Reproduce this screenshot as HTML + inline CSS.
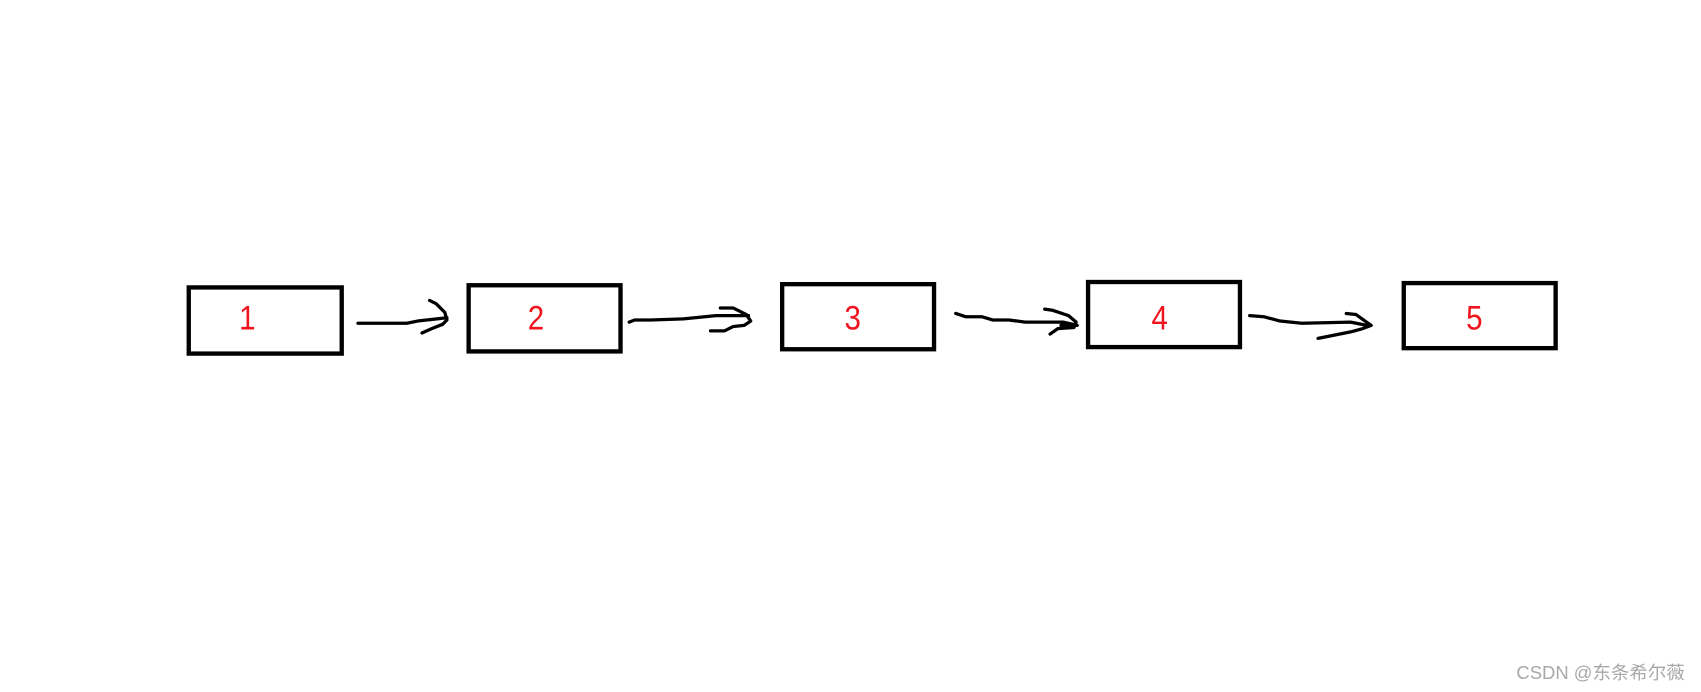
<!DOCTYPE html>
<html><head><meta charset="utf-8"><style>
html,body{margin:0;padding:0;background:#fff;overflow:hidden}
svg{display:block}
</style></head><body>
<svg width="1701" height="692" viewBox="0 0 1568 638" preserveAspectRatio="none">
<rect width="1568" height="638" fill="#fff"/>
<g fill="none" stroke="#000" stroke-width="4">
<rect x="174" y="265" width="141" height="61"/>
<rect x="432" y="263" width="140" height="61"/>
<rect x="721" y="262" width="140" height="60"/>
<rect x="1003" y="260" width="140" height="60"/>
<rect x="1294" y="261" width="140" height="60"/>
</g>
<g font-family="'Liberation Sans','DejaVu Sans',sans-serif" font-size="32" fill="#f0141e" text-anchor="middle">
<text transform="translate(228,304) scale(0.85,1)">1</text>
<text transform="translate(494,304) scale(0.85,1)">2</text>
<text transform="translate(786,304) scale(0.85,1)">3</text>
<text transform="translate(1069,304) scale(0.85,1)">4</text>
<text transform="translate(1359,304) scale(0.85,1)">5</text>
</g>
<g fill="none" stroke="#000" stroke-width="3" stroke-linecap="round" stroke-linejoin="round">
<path d="M330 298 L375 298 L385 296 L412 293 M396 277 L402 280 L410 288 L412 295 L408 299 L398 303 L389 307"/>
<path d="M580 297 L585 295 L600 295 L630 294 L660 291 L690 291 M664 284 L676 284 L688 290 L692 296 L686 300 L676 301 L668 305 L655 305"/>
<path d="M881 289 L890 292 L905 292 L915 295 L930 295 L945 297 L980 297 L993 300 L978 300 M963 285 L970 286 L985 291 L992 297 L990 302 L975 303 L968 308"/>
<path d="M1152 291 L1165 292 L1180 296 L1200 298 L1245 297 L1260 300 M1241 289 L1250 290 L1264 300 L1256 303 L1245 306 L1230 309 L1215 312"/>
</g>
<text x="1553" y="626" text-anchor="end" font-family="'Liberation Sans','Noto Sans CJK SC',sans-serif" font-size="17" fill="#a8a8a8">CSDN @东条希尔薇</text>
</svg>
</body></html>
